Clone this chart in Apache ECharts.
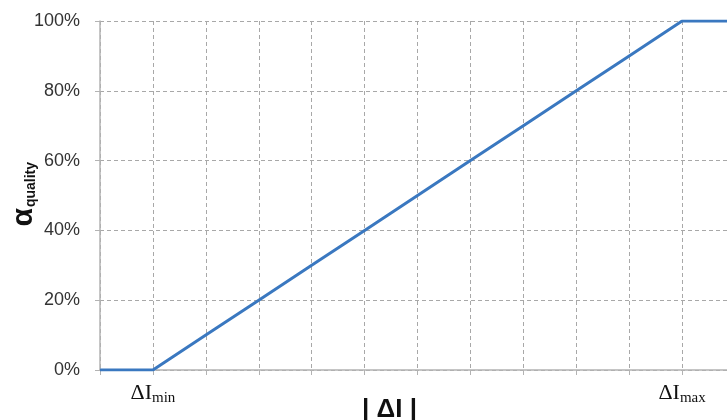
<!DOCTYPE html>
<html><head><meta charset="utf-8">
<script src="https://cdn.jsdelivr.net/npm/echarts@6/dist/echarts.min.js"></script>
<style>html,body{margin:0;padding:0;background:#fff}#c{width:727px;height:420px}</style>
</head><body><div id="c"></div>
<script>
const categories = ['', 'min', '', '', '', '', '', '', '', '', '', 'max', ''];
const alphaValues = [0, 0, 10, 20, 30, 40, 50, 60, 70, 80, 90, 100, 100];
const yTicks = [0, 20, 40, 60, 80, 100];

const chart = echarts.init(document.getElementById('c'), null, {renderer: 'canvas'});
const grey = '#b3b3b3';
chart.setOption({
  animation: false,
  grid: {left: 100, width: 635, top: 21, bottom: 50, containLabel: false, outerBoundsMode: 'none'},
  xAxis: {
    type: 'value', min: 0, max: categories.length - 1, interval: 1,
    axisLine: {lineStyle: {color: grey, width: 1.5}},
    axisTick: {show: true, length: 5, lineStyle: {color: grey}},
    splitLine: {show: true, lineStyle: {color: '#a8a8a8', type: [4, 3], width: 1}},
    axisLabel: {
      margin: 12, showMinLabel: true, showMaxLabel: true,
      formatter: v => categories[v] ? '{a|ΔI}{b|' + categories[v] + '}' : '',
      rich: {
        a: {fontFamily: 'Liberation Serif', fontSize: 22, color: '#111', verticalAlign: 'top', lineHeight: 24},
        b: {fontFamily: 'Liberation Serif', fontSize: 15, color: '#111', verticalAlign: 'bottom', padding: [20, 0, 0, 0], lineHeight: 24}
      }
    }
  },
  yAxis: {
    type: 'value', min: 0, max: 100, interval: 20,
    axisLine: {show: true, lineStyle: {color: grey, width: 1.5}},
    axisTick: {show: true, length: 5, lineStyle: {color: grey}},
    splitLine: {show: true, lineStyle: {color: '#a8a8a8', type: [4, 3], width: 1}},
    axisLabel: {
      margin: 20, color: '#333', fontFamily: 'Liberation Sans', fontSize: 18,
      formatter: v => yTicks.includes(v) ? v + '%' : ''
    }
  },
  series: [{
    type: 'line', data: alphaValues.map((v, i) => [i, v]), symbol: 'none', clip: true,
    lineStyle: {color: '#3a78c0', width: 3},
    itemStyle: {color: '#3a78c0'}
  }],
  graphic: [
    {
      type: 'text', left: 9, top: 162, rotation: Math.PI / 2,
      style: {
        text: '{a|α}{b|quality}',
        rich: {
          a: {fontFamily: 'Liberation Sans', fontWeight: 'bold', fontSize: 30, fill: '#111'},
          b: {fontFamily: 'Liberation Sans', fontWeight: 'bold', fontSize: 14, fill: '#111', padding: [14, 0, 0, 1]}
        }
      }
    },
    {
      type: 'text', left: 362, top: 397,
      style: {text: '| ΔI |', fontFamily: 'Liberation Sans', fontWeight: 'bold', fontSize: 26, fill: '#111'}
    }
  ]
});
</script></body></html>
